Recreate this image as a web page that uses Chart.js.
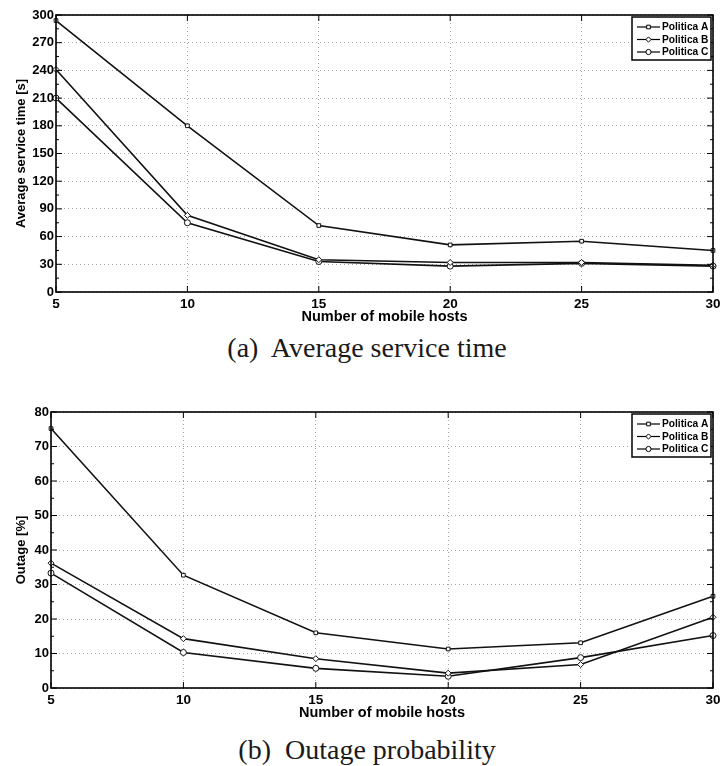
<!DOCTYPE html>
<html>
<head>
<meta charset="utf-8">
<script src="https://cdn.jsdelivr.net/npm/chart.js@4.4.1/dist/chart.umd.min.js"></script>
<style>
    html, body { margin: 0; padding: 0; background: #fff; overflow: hidden; width: 720px; height: 766px; }
    .panel { position: absolute; left: 0; width: 740px; height: 330px; }
    .caption { position: absolute; left: 0; width: 734px; text-align: center; font-family: "Liberation Serif", serif;
               font-size: 28px; line-height: 1; color: #1a1a1a; white-space: pre; }
</style>
</head>
<body>
<div class="panel" style="top:0"><canvas id="servicio" width="740" height="330"></canvas></div>
<div class="caption" style="top:334px">(a)  Average service time</div>
<div class="panel" style="top:397px"><canvas id="outage" width="740" height="330"></canvas></div>
<div class="caption" style="top:736px">(b)  Outage probability</div>
<script>
// Datos
const hosts = [5, 10, 15, 20, 25, 30];
const politicas = ['Politica A', 'Politica B', 'Politica C'];
const marcadores = ['rect', 'rectRot', 'circle'];

// (a) tiempo medio de servicio [s]
const servicioA = [294, 180, 72, 51, 55, 45];
const servicioB = [241, 83, 35, 32, 32, 29];
const servicioC = [210, 75, 33, 28, 31, 28];

// (b) outage [%]
const outageA = [75.2, 32.7, 16.0, 11.3, 13.1, 26.6];
const outageB = [36.2, 14.3, 8.5, 4.3, 6.8, 20.5];
const outageC = [33.3, 10.3, 5.7, 3.4, 8.8, 15.2];

Chart.defaults.font.family = '"Liberation Sans", Arial, sans-serif';
Chart.defaults.color = '#000';

// Marco, ticks hacia dentro y leyenda al estilo MATLAB
const estiloMatlab = {
    id: 'estiloMatlab',
    afterDatasetsDraw(chart, args, opts) {
        const { ctx, chartArea: a, scales: { x, y } } = chart;
        ctx.save();
        ctx.strokeStyle = '#000';
        ctx.lineWidth = 1;
        ctx.beginPath();
        y.ticks.forEach(t => {
            const py = y.getPixelForValue(t.value);
            ctx.moveTo(a.left, py); ctx.lineTo(a.left + 6, py);
            ctx.moveTo(a.right, py); ctx.lineTo(a.right - 6, py);
            const menor = t.value + opts.pasoY / 2;
            if (menor < y.max) {
                const pm = y.getPixelForValue(menor);
                ctx.moveTo(a.left, pm); ctx.lineTo(a.left + 3, pm);
                ctx.moveTo(a.right, pm); ctx.lineTo(a.right - 3, pm);
            }
        });
        x.ticks.forEach(t => {
            const px = x.getPixelForValue(t.value);
            ctx.moveTo(px, a.bottom); ctx.lineTo(px, a.bottom - 6);
            ctx.moveTo(px, a.top); ctx.lineTo(px, a.top + 6);
        });
        ctx.stroke();

        ctx.lineWidth = 1.6;
        ctx.strokeRect(a.left, a.top, a.right - a.left, a.bottom - a.top);

        // leyenda
        const w = 79, h = 43;
        const bx = a.right - 2 - w, by = a.top + 2;
        ctx.fillStyle = '#fff';
        ctx.fillRect(bx, by, w, h);
        ctx.lineWidth = 1.5;
        ctx.strokeRect(bx, by, w, h);
        ctx.font = 'bold 10.2px "Liberation Sans", Arial, sans-serif';
        ctx.textBaseline = 'middle';
        chart.data.datasets.forEach((ds, i) => {
            const ly = by + 10 + i * 12.5;
            ctx.strokeStyle = '#000';
            ctx.lineWidth = 1.2;
            ctx.beginPath();
            ctx.moveTo(bx + 5, ly); ctx.lineTo(bx + 28, ly);
            ctx.stroke();
            ctx.fillStyle = '#fff';
            ctx.lineWidth = 1;
            Chart.helpers.drawPoint(ctx, { pointStyle: ds.pointStyle, radius: 2.6, rotation: 0, borderWidth: 1 }, bx + 16.5, ly);
            ctx.fillStyle = '#000';
            ctx.fillText(ds.label, bx + 30, ly + 0.5);
        });
        ctx.restore();
    }
};

function serie(label, valores, estilo) {
    return {
        label: label,
        data: hosts.map((h, i) => ({ x: h, y: valores[i] })),
        borderColor: '#111',
        borderWidth: 1.6,
        pointStyle: estilo,
        pointRadius: estilo === 'rect' ? 2.6 : 3,
        pointBorderWidth: 1,
        pointBackgroundColor: '#fff',
        pointBorderColor: '#111',
        tension: 0,
        clip: false
    };
}

function grafico(id, series, tituloY, maxY, pasoY, anchoEjeY, padAbajo) {
    return new Chart(document.getElementById(id), {
        type: 'line',
        data: { datasets: series.map((s, i) => serie(politicas[i], s, marcadores[i])) },
        options: {
            responsive: false,
            animation: false,
            layout: { padding: { top: 15, right: 27, bottom: padAbajo, left: 0 } },
            plugins: { legend: { display: false }, tooltip: { enabled: false }, estiloMatlab: { pasoY: pasoY } },
            scales: {
                x: {
                    type: 'linear', min: 5, max: 30,
                    ticks: { stepSize: 5, padding: 4, font: { size: 13.5, weight: 'bold' } },
                    grid: { color: '#a8a8a8', lineWidth: 1, drawTicks: false },
                    border: { display: false, dash: [1, 3] },
                    title: { display: true, text: 'Number of mobile hosts', padding: 0, font: { size: 14.5, weight: 'bold' } },
                    afterFit: s => { s.height = 33.4; }
                },
                y: {
                    min: 0, max: maxY,
                    ticks: { stepSize: pasoY, padding: 2, font: { size: 13, weight: 'bold' } },
                    grid: { color: '#a8a8a8', lineWidth: 1, drawTicks: false },
                    border: { display: false, dash: [1, 3] },
                    title: { display: true, text: tituloY, padding: { top: 13.2, bottom: 0 }, font: { size: 13, weight: 'bold' } },
                    afterFit: s => { s.width = anchoEjeY; }
                }
            }
        },
        plugins: [estiloMatlab]
    });
}

grafico('servicio', [servicioA, servicioB, servicioC], 'Average service time [s]', 300, 30, 56, 4.6);
grafico('outage', [outageA, outageB, outageC], 'Outage [%]', 80, 10, 51, 5.6);
</script>
</body>
</html>
